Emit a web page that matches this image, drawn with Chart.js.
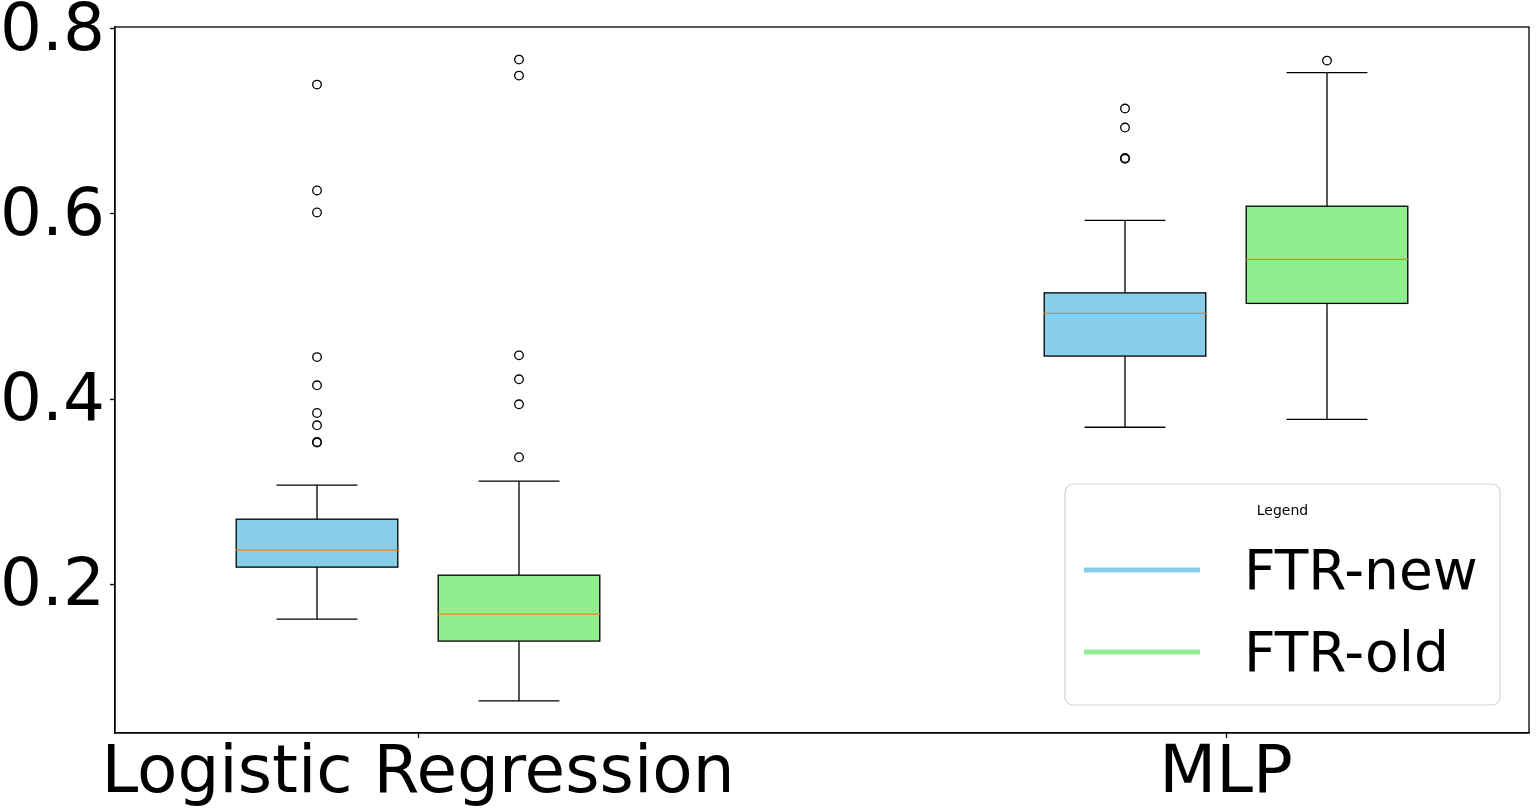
<!DOCTYPE html>
<html>
<head>
<meta charset="utf-8">
<title>FTR boxplot</title>
<script src="https://cdn.jsdelivr.net/npm/chart.js@4.4.1/dist/chart.umd.min.js"></script>
<style>
  html, body { margin: 0; padding: 0; background: #fff; }
  canvas { display: block; }
</style>
</head>
<body>
<canvas id="boxChart" width="1539" height="810"></canvas>
<script>
// Box plot of FTR-new vs FTR-old per model, drawn with Chart.js
// boxes/whiskers come from a small plugin, outliers are scatter points

const categories = ['Logistic Regression', 'MLP'];
const seriesNames = ['FTR-new', 'FTR-old'];
const seriesColors = ['#87ceeb', '#90ee90'];
const yTicks = [0.2, 0.4, 0.6, 0.8];

// FTR-new, one value per category
const newWhiskerLow = [0.1623, 0.3696];
const newQ1 = [0.2185, 0.4465];
const newMedian = [0.2368, 0.4926];
const newQ3 = [0.2703, 0.5148];
const newWhiskerHigh = [0.3070, 0.5930];
const newOutliers = [
  [0.7398, 0.6254, 0.6016, 0.4454, 0.4149, 0.3850, 0.3717, 0.3538, 0.3530],
  [0.7139, 0.6934, 0.6604, 0.6596]
];

// FTR-old
const oldWhiskerLow = [0.0741, 0.3782];
const oldQ1 = [0.1386, 0.5034];
const oldMedian = [0.1677, 0.5509];
const oldQ3 = [0.2098, 0.6084];
const oldWhiskerHigh = [0.3113, 0.7527];
const oldOutliers = [
  [0.7668, 0.7495, 0.4473, 0.4214, 0.3944, 0.3372],
  [0.7657]
];

const boxSeries = [
  { lo: newWhiskerLow, q1: newQ1, med: newMedian, q3: newQ3, hi: newWhiskerHigh, out: newOutliers },
  { lo: oldWhiskerLow, q1: oldQ1, med: oldMedian, q3: oldQ3, hi: oldWhiskerHigh, out: oldOutliers },
];
const offsets = [-0.125, 0.125];
const boxWidth = 0.2;
const capWidth = 0.1;
const FONT = '"DejaVu Sans", sans-serif';

function outlierPoints(si) {
  const pts = [];
  boxSeries[si].out.forEach((vals, ci) => {
    vals.forEach(v => pts.push({ x: ci + 1 + offsets[si], y: v }));
  });
  return pts;
}

const boxPlugin = {
  id: 'boxes',
  beforeDatasetsDraw(chart) {
    const { ctx, scales } = chart;
    const x = scales.x, y = scales.y;
    ctx.save();
    boxSeries.forEach((s, si) => {
      categories.forEach((c, ci) => {
        const pos = ci + 1 + offsets[si];
        const xl = x.getPixelForValue(pos - boxWidth / 2);
        const xr = x.getPixelForValue(pos + boxWidth / 2);
        const xc = x.getPixelForValue(pos);
        const cl = x.getPixelForValue(pos - capWidth / 2);
        const cr = x.getPixelForValue(pos + capWidth / 2);
        const yq1 = y.getPixelForValue(s.q1[ci]);
        const yq3 = y.getPixelForValue(s.q3[ci]);
        const ymed = y.getPixelForValue(s.med[ci]);
        const ylo = y.getPixelForValue(s.lo[ci]);
        const yhi = y.getPixelForValue(s.hi[ci]);

        ctx.strokeStyle = '#000';
        ctx.lineWidth = 1.3;
        // whiskers + caps
        ctx.beginPath();
        ctx.moveTo(xc, yq3); ctx.lineTo(xc, yhi);
        ctx.moveTo(xc, yq1); ctx.lineTo(xc, ylo);
        ctx.moveTo(cl, yhi); ctx.lineTo(cr, yhi);
        ctx.moveTo(cl, ylo); ctx.lineTo(cr, ylo);
        ctx.stroke();

        // box
        ctx.fillStyle = seriesColors[si];
        ctx.fillRect(xl, yq3, xr - xl, yq1 - yq3);
        ctx.strokeRect(xl, yq3, xr - xl, yq1 - yq3);

        // median
        ctx.strokeStyle = '#ff7f0e';
        ctx.lineWidth = 1.2;
        ctx.beginPath();
        ctx.moveTo(xl, ymed); ctx.lineTo(xr, ymed);
        ctx.stroke();
      });
    });
    ctx.restore();
  },
  afterDraw(chart) {
    const { ctx, chartArea } = chart;
    ctx.save();
    // full frame like matplotlib spines
    ctx.strokeStyle = '#000';
    ctx.lineWidth = 1.3;
    ctx.strokeRect(chartArea.left, chartArea.top, chartArea.right - chartArea.left, chartArea.bottom - chartArea.top);

    // legend in lower right of the axes
    const lx = chartArea.right - 464, ly = chartArea.bottom - 249;
    const lw = 435, lh = 221;
    ctx.beginPath();
    ctx.roundRect(lx, ly, lw, lh, 8);
    ctx.fillStyle = 'rgba(255,255,255,0.8)';
    ctx.fill();
    ctx.strokeStyle = '#d5d5d5';
    ctx.lineWidth = 1.2;
    ctx.stroke();

    ctx.fillStyle = '#000';
    ctx.font = '14px ' + FONT;
    ctx.textAlign = 'center';
    ctx.textBaseline = 'middle';
    ctx.fillText('Legend', lx + lw / 2, ly + 27);

    const rowY = [ly + 86, ly + 168];
    seriesNames.forEach((name, i) => {
      ctx.strokeStyle = seriesColors[i];
      ctx.lineWidth = 5;
      ctx.beginPath();
      ctx.moveTo(lx + 19, rowY[i]);
      ctx.lineTo(lx + 135, rowY[i]);
      ctx.stroke();
      ctx.fillStyle = '#000';
      ctx.font = '55px ' + FONT;
      ctx.textAlign = 'left';
      ctx.textBaseline = 'alphabetic';
      ctx.fillText(name, lx + 179, rowY[i] + 19);
    });
    ctx.restore();
  }
};

const ctx = document.getElementById('boxChart').getContext('2d');
new Chart(ctx, {
  type: 'scatter',
  data: {
    datasets: seriesNames.map((name, si) => ({
      label: name,
      data: outlierPoints(si),
      pointStyle: 'circle',
      pointRadius: 4.3,
      pointHoverRadius: 4.3,
      backgroundColor: 'rgba(0,0,0,0)',
      borderColor: '#000',
      borderWidth: 1.3,
    })),
  },
  options: {
    responsive: false,
    animation: false,
    devicePixelRatio: 1,
    layout: { padding: { top: 27, right: 10, left: 0, bottom: 0 } },
    plugins: {
      legend: { display: false },
      tooltip: { enabled: false },
    },
    scales: {
      x: {
        type: 'linear',
        min: 0.625,
        max: 2.375,
        afterBuildTicks: s => { s.ticks = categories.map((c, i) => ({ value: i + 1 })); },
        afterFit: s => { s.height = 77; s.paddingLeft = 0; s.paddingRight = 0; },
        grid: { display: true, drawOnChartArea: false, drawTicks: true, tickLength: 5, color: '#000', tickWidth: 1.3 },
        border: { display: true, color: '#000', width: 1.3 },
        ticks: {
          autoSkip: false,
          maxRotation: 0,
          padding: -3,
          color: '#000',
          font: { family: FONT, size: 66 },
          callback: v => categories[Math.round(v) - 1] || '',
        },
      },
      y: {
        type: 'linear',
        min: 0.0393,
        max: 0.802,
        afterBuildTicks: s => { s.ticks = yTicks.map(v => ({ value: v })); },
        afterFit: s => { s.width = 115; s.paddingTop = 0; s.paddingBottom = 0; },
        grid: { display: true, drawOnChartArea: false, drawTicks: true, tickLength: 5, color: '#000', tickWidth: 1.3 },
        border: { display: true, color: '#000', width: 1.3 },
        ticks: {
          padding: 5,
          labelOffset: 4,
          color: '#000',
          font: { family: FONT, size: 66 },
          callback: v => v.toFixed(1),
        },
      },
    },
  },
  plugins: [boxPlugin],
});
</script>
</body>
</html>
